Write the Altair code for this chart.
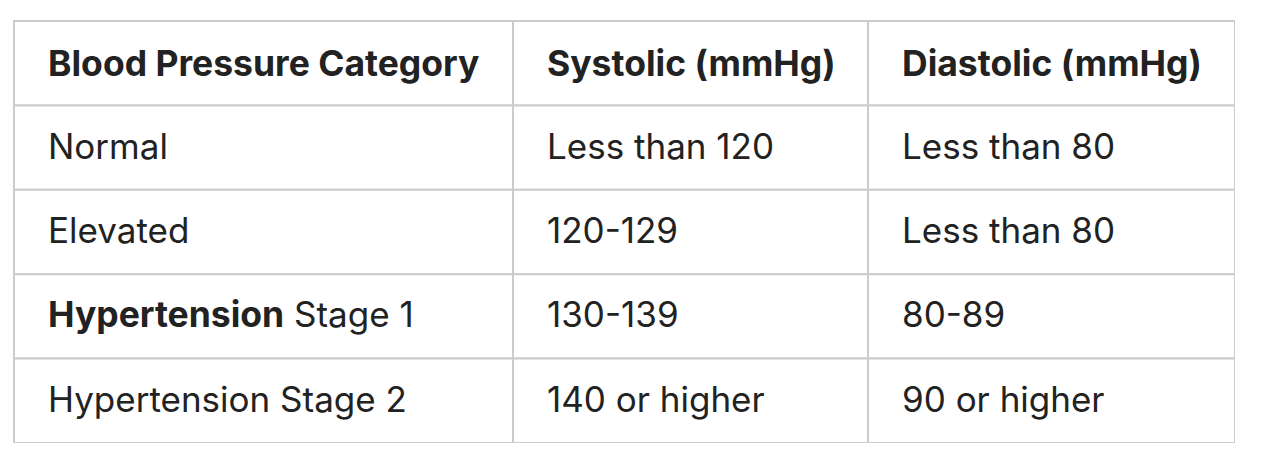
import altair as alt
import pandas as pd

# ---- data ----
headers = ["Blood Pressure Category", "Systolic (mmHg)", "Diastolic (mmHg)"]
categories = ["Normal", "Elevated", "Hypertension Stage 1", "Hypertension Stage 2"]
systolic = ["Less than 120", "120-129", "130-139", "140 or higher"]
diastolic = ["Less than 80", "Less than 80", "80-89", "90 or higher"]

# ---- layout (pixel widths of columns, padding) ----
col_edges = [0, 499, 854, 1221]
n_rows = 1 + len(categories)
PAD = 34
FONT = "Inter"
TEXT_COLOR = "#222222"
GRID = "#cccccc"
FS_NORMAL = 35
FS_BOLD = 35.5

cells = []
texts = []
for r in range(n_rows):
    for c in range(3):
        cells.append({"x": col_edges[c], "x2": col_edges[c + 1], "y": r, "y2": r + 1})
for c, h in enumerate(headers):
    texts.append({"x": col_edges[c] + PAD, "y": 0.5, "t": h, "w": "bold", "dx": 0, "hdr": 1})
for i in range(len(categories)):
    row_vals = [categories[i], systolic[i], diastolic[i]]
    for c, v in enumerate(row_vals):
        if c == 0 and v == "Hypertension Stage 1":
            texts.append({"x": col_edges[c] + PAD, "y": i + 1.5, "t": "Hypertension", "w": "bold", "dx": 0, "hdr": 0})
            texts.append({"x": col_edges[c] + PAD, "y": i + 1.5, "t": "Stage 1", "w": "normal", "dx": 246, "hdr": 0})
        else:
            texts.append({"x": col_edges[c] + PAD, "y": i + 1.5, "t": v, "w": "normal", "dx": 0, "hdr": 0})

cells_df = pd.DataFrame(cells)
texts_df = pd.DataFrame(texts)

xs = alt.Scale(domain=[0, col_edges[-1]], nice=False, zero=False)
ys = alt.Scale(domain=[0, n_rows], nice=False, zero=False, reverse=True)

rects = alt.Chart(cells_df).mark_rect(fill="white", stroke=GRID, strokeWidth=2).encode(
    x=alt.X("x:Q", scale=xs, axis=None),
    x2="x2:Q",
    y=alt.Y("y:Q", scale=ys, axis=None),
    y2="y2:Q",
)

base_t = alt.Chart(texts_df)
def txt(weight, dx, hdr):
    return base_t.transform_filter(
        (alt.datum.w == weight) & (alt.datum.dx == dx) & (alt.datum.hdr == hdr)
    ).mark_text(
        align="left", baseline="middle", font=FONT,
        fontSize=FS_BOLD if weight == "bold" else FS_NORMAL,
        fontWeight=weight, color=TEXT_COLOR, dx=dx, dy=2 if hdr else 0,
    ).encode(
        x=alt.X("x:Q", scale=xs, axis=None),
        y=alt.Y("y:Q", scale=ys, axis=None),
        text="t:N",
    )

chart = alt.layer(
    rects, txt("bold", 0, 1), txt("bold", 0, 0), txt("normal", 0, 0), txt("normal", 246, 0)
).properties(
    width=1221, height=422,
    padding={"left": 6, "top": 13, "right": 0, "bottom": 0},
    autosize=alt.AutoSizeParams(type="none"),
).configure_view(stroke=None)

chart.save("out.html", embed_options={"renderer": "svg", "actions": False})
